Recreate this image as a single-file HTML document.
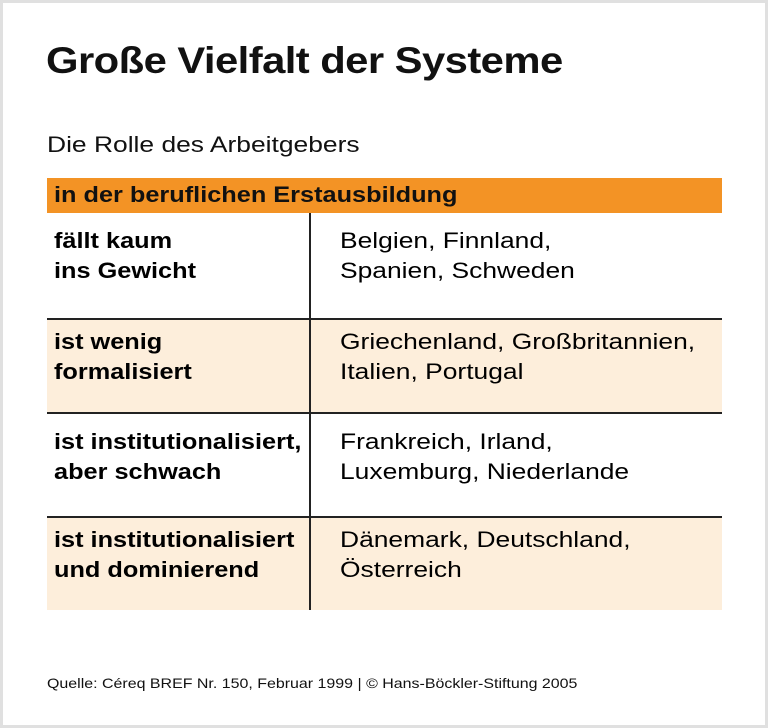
<!DOCTYPE html>
<html><head><meta charset="utf-8"><style>
body{margin:0;width:768px;height:728px;background:#fff;font-family:"Liberation Sans",sans-serif;}
.frame{position:absolute;left:0;top:0;width:762px;height:722px;border:3px solid #e0e0e0;}
.abs{position:absolute;white-space:nowrap;color:#111;transform-origin:left top;}
.row{position:absolute;left:47px;width:675px;}
.l{position:absolute;left:7px;font-weight:bold;font-size:22px;line-height:30px;white-space:nowrap;transform:scaleX(1.15);transform-origin:left top;}
.r{position:absolute;left:293px;font-size:22px;line-height:30px;white-space:nowrap;transform:scaleX(1.2);transform-origin:left top;}
</style></head><body>
<div class="frame"></div>
<div class="abs" style="left:46px;top:40px;font-size:37px;font-weight:bold;letter-spacing:-0.5px;transform:scaleX(1.13)">Große Vielfalt der Systeme</div>
<div class="abs" style="left:47px;top:132px;font-size:22px;transform:scaleX(1.2)">Die Rolle des Arbeitgebers</div>
<div class="row" style="top:178px;height:35px;background:#f39325"><div class="abs" style="left:7px;top:4px;font-size:22px;font-weight:bold;transform:scaleX(1.15)">in der beruflichen Erstausbildung</div></div>
<div class="row" style="top:213px;height:105px;background:#fff"><div class="l" style="top:13px">fällt kaum<br>ins Gewicht</div><div class="r" style="top:13px">Belgien, Finnland,<br>Spanien, Schweden</div></div>
<div class="row" style="top:318px;height:94px;background:#fdeedb;border-top:2px solid #222;box-sizing:border-box"><div class="l" style="top:7px">ist wenig<br>formalisiert</div><div class="r" style="top:7px">Griechenland, Großbritannien,<br>Italien, Portugal</div></div>
<div class="row" style="top:412px;height:104px;background:#fff;border-top:2px solid #222;box-sizing:border-box"><div class="l" style="top:13px">ist institutionalisiert,<br>aber schwach</div><div class="r" style="top:13px">Frankreich, Irland,<br>Luxemburg, Niederlande</div></div>
<div class="row" style="top:516px;height:94px;background:#fdeedb;border-top:2px solid #222;box-sizing:border-box"><div class="l" style="top:7px">ist institutionalisiert<br>und dominierend</div><div class="r" style="top:7px">Dänemark, Deutschland,<br>Österreich</div></div>
<div style="position:absolute;left:309px;top:213px;width:2px;height:397px;background:#222"></div>
<div class="abs" style="left:47px;top:675px;font-size:14px;transform:scaleX(1.14)">Quelle: Céreq BREF Nr. 150, Februar 1999 | © Hans-Böckler-Stiftung 2005</div>
</body></html>
